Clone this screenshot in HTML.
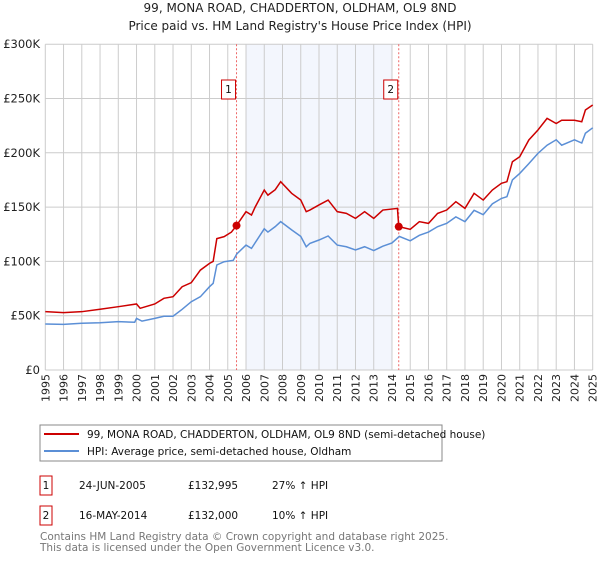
<!DOCTYPE html>
<html><head><meta charset="utf-8"><style>
body{margin:0;background:#fff;font-family:"Liberation Sans","DejaVu Sans",sans-serif;}
svg text{font-family:"DejaVu Sans","Liberation Sans",sans-serif;}
</style></head><body>
<svg id="c" width="600" height="560" viewBox="0 0 600 560" xmlns="http://www.w3.org/2000/svg">
<text x="300" y="12" text-anchor="middle" font-size="12" fill="#222">99, MONA ROAD, CHADDERTON, OLDHAM, OL9 8ND</text>
<text x="300" y="30" text-anchor="middle" font-size="12" fill="#222">Price paid vs. HM Land Registry's House Price Index (HPI)</text>
<g id="grid"></g><g id="lines"></g>
<rect x="40" y="425" width="402" height="36" fill="#fff" stroke="#888"/>
<line x1="44" y1="434" x2="79" y2="434" stroke="#cc0000" stroke-width="2"/>
<text x="87" y="438" font-size="10.5" fill="#111">99, MONA ROAD, CHADDERTON, OLDHAM, OL9 8ND (semi-detached house)</text>
<line x1="44" y1="451" x2="79" y2="451" stroke="#5b8fd6" stroke-width="2"/>
<text x="87" y="455" font-size="10.5" fill="#111">HPI: Average price, semi-detached house, Oldham</text>
<rect x="40" y="476" width="12" height="19" fill="#fff" stroke="#cc0000"/>
<text x="46" y="489" font-size="10.5" text-anchor="middle" fill="#111">1</text>
<text x="79" y="489" font-size="10.5" fill="#111">24-JUN-2005</text>
<text x="188" y="489" font-size="10.5" fill="#111">£132,995</text>
<text x="272" y="489" font-size="10.5" fill="#111">27% ↑ HPI</text>
<rect x="40" y="506" width="12" height="19" fill="#fff" stroke="#cc0000"/>
<text x="46" y="519" font-size="10.5" text-anchor="middle" fill="#111">2</text>
<text x="79" y="519" font-size="10.5" fill="#111">16-MAY-2014</text>
<text x="188" y="519" font-size="10.5" fill="#111">£132,000</text>
<text x="272" y="519" font-size="10.5" fill="#111">10% ↑ HPI</text>
<text x="40" y="540" font-size="10.5" fill="#777">Contains HM Land Registry data © Crown copyright and database right 2025.</text>
<text x="40" y="551" font-size="10.5" fill="#777">This data is licensed under the Open Government Licence v3.0.</text>
</svg>
<script>
const yTicks=[0,50000,100000,150000,200000,250000,300000];
const yTickLabels=["£0","£50K","£100K","£150K","£200K","£250K","£300K"];
const years=[1995,1996,1997,1998,1999,2000,2001,2002,2003,2004,2005,2006,2007,2008,2009,2010,2011,2012,2013,2014,2015,2016,2017,2018,2019,2020,2021,2022,2023,2024,2025];
const hpiT=[1995,1996,1997,1998,1999,1999.9,2000,2000.3,2001,2001.5,2002,2002.5,2003,2003.5,2004,2004.2,2004.4,2004.8,2005.3,2005.5,2006,2006.3,2007,2007.2,2007.6,2007.9,2008.5,2009,2009.3,2009.5,2010,2010.5,2011,2011.5,2012,2012.5,2013,2013.5,2014,2014.4,2015,2015.5,2016,2016.5,2017,2017.5,2018,2018.5,2019,2019.5,2020,2020.3,2020.6,2021,2021.5,2022,2022.5,2023,2023.3,2024,2024.4,2024.6,2025];
const hpiV=[42.4,42,43,43.5,44.5,44,47.5,45,47.5,49.5,49.5,55.9,62.9,67.5,76.7,79.8,96.7,99.7,101,107,115,112,130,127,132,136.6,129,123,113.5,116.6,119.7,123.4,115,113.5,110.5,113.5,110,114,117,123,119,124,127,132,135,141,136.6,147,143,153,158,159.6,175,181,190,199.5,207,212,207,212,209,218,223];
const priceT=[1995,1996,1997,1998,1999,2000,2000.2,2001,2001.5,2002,2002.5,2003,2003.5,2004,2004.2,2004.4,2004.8,2005.2,2005.48,2006,2006.3,2006.5,2007,2007.2,2007.6,2007.9,2008.5,2009,2009.3,2009.5,2010,2010.5,2011,2011.5,2012,2012.5,2013,2013.5,2014.3,2014.37,2015,2015.5,2016,2016.5,2017,2017.5,2018,2018.5,2019,2019.5,2020,2020.3,2020.6,2021,2021.5,2022,2022.5,2023,2023.3,2024,2024.4,2024.6,2025];
const priceV=[53.7,52.8,53.7,55.9,58.3,60.8,56.8,60.8,66,67.5,76.7,80.4,92,98.2,100,121,122.8,127,133,145.8,142.7,150,165.7,161,166,173.4,162.7,156.5,145.8,147.3,152,156.5,145.8,144.2,139.6,145.8,139.6,147.3,148.8,132,129.5,136.6,135,144.2,147.3,155,148.8,162.7,156.5,165.7,171.9,173.4,191.8,196.4,211.8,221,231.7,227,230,230,228.6,239.4,244];
const saleT=[2005.48,2014.37];
const saleV=[132995,132000];
const X=t=>45.3+(t-1995)*(547.4/30);
const Y=v=>370-v/300000*325.8;
const NS="http://www.w3.org/2000/svg";
const g=document.getElementById('grid'),L=document.getElementById('lines');
function mk(tag,at,par){const e=document.createElementNS(NS,tag);for(const k in at)e.setAttribute(k,at[k]);par.appendChild(e);return e;}
const sh=mk('rect',{x:X(2006),y:Y(300000),width:X(2014)-X(2006),height:Y(0)-Y(300000),fill:'#f3f6fd'},g);


years.forEach(yr=>{const l=mk('line',{x1:X(yr),x2:X(yr),y1:Y(300000),y2:Y(0),stroke:'#ccc'},g);


const t=mk('text',{x:0,y:0,'font-size':11,fill:'#222','text-anchor':'end',transform:`translate(${X(yr)+4},374) rotate(-90)`},g);t.textContent=yr;

});
yTicks.forEach((v,i)=>{const l=mk('line',{x1:X(1995),x2:X(2025),y1:Y(v),y2:Y(v),stroke:'#ccc'},g);


const t=mk('text',{x:40,y:Y(v)+4,'font-size':11.5,fill:'#222','text-anchor':'end'},g);t.textContent=yTickLabels[i];

});
saleT.forEach((t,i)=>{const l=mk('line',{x1:X(t),x2:X(t),y1:Y(300000),y2:Y(0),stroke:'#e66','stroke-dasharray':'2,2'},g);


const r=mk('rect',{x:X(t)-15,y:80,width:14,height:19,fill:'#fff',stroke:'#cc0000'},g);


const tx=mk('text',{x:X(t)-8,y:93,'font-size':10.5,'text-anchor':'middle',fill:'#111'},g);tx.textContent=String(i+1);});
const hp=mk('polyline',{points:hpiT.map((t,i)=>X(t)+','+Y(hpiV[i]*1000)).join(' '),fill:'none',stroke:'#5b8fd6','stroke-width':1.5},L);


const pp=mk('polyline',{points:priceT.map((t,i)=>X(t)+','+Y(priceV[i]*1000)).join(' '),fill:'none',stroke:'#cc0000','stroke-width':1.5},L);


saleT.forEach((t,i)=>{const c=mk('circle',{cx:X(t),cy:Y(saleV[i]),r:4,fill:'#cc0000'},L);

});
</script>
</body></html>
